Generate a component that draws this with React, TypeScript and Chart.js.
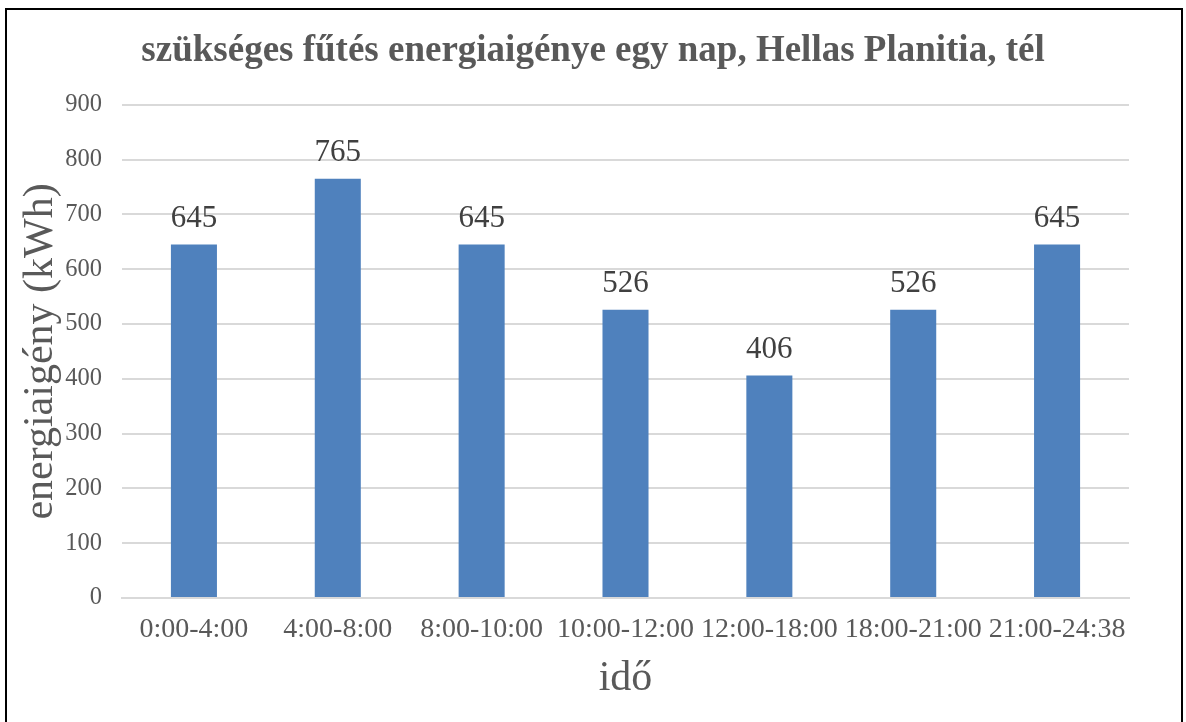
import React, { useEffect, useRef } from "react";
import { Chart, registerables } from "chart.js";

Chart.register(...registerables);

const categories = ["0:00-4:00", "4:00-8:00", "8:00-10:00", "10:00-12:00", "12:00-18:00", "18:00-21:00", "21:00-24:38"];
const values = [645, 765, 645, 526, 406, 526, 645];
const titleText = "szükséges fűtés energiaigénye egy nap, Hellas Planitia, tél";
const yTitle = "energiaigény (kWh)";
const xTitle = "idő";

const FONT = "'Liberation Serif', 'Times New Roman', serif";

const labelPlugin = {
  id: "barLabels",
  afterDatasetsDraw(chart: any) {
    const ctx = chart.ctx;
    const meta = chart.getDatasetMeta(0);
    ctx.save();
    ctx.font = `31px ${FONT}`;
    ctx.fillStyle = "#404040";
    ctx.textAlign = "center";
    ctx.textBaseline = "alphabetic";
    meta.data.forEach((bar: any, i: number) => {
      ctx.fillText(String(values[i]), bar.x, bar.y - 18);
    });
    ctx.restore();
  },
};

export default function App() {
  const ref = useRef<HTMLCanvasElement>(null);
  useEffect(() => {
    const chart = new Chart(ref.current!, {
      type: "bar",
      data: {
        labels: categories,
        datasets: [
          {
            data: values,
            backgroundColor: "#4F81BD",
            categoryPercentage: 1,
            barPercentage: 0.32,
          },
        ],
      },
      options: {
        animation: false,
        responsive: false,
        maintainAspectRatio: false,
        layout: { padding: 0 },
        plugins: {
          legend: { display: false },
          tooltip: { enabled: false },
          title: {
            display: true,
            text: titleText,
            color: "#595959",
            font: { family: FONT, size: 37, weight: "bold" },
            padding: { top: 29, bottom: 31.5 },
          },
        },
        scales: {
          y: {
            min: 0,
            max: 900,
            afterFit: (s: any) => { s.width = 122; },
            ticks: { stepSize: 100, color: "#595959", font: { family: FONT, size: 24.5 }, padding: 20 },
            grid: { color: "#d9d9d9", lineWidth: 2, drawTicks: false },
            border: { display: false },
            title: { display: true, text: yTitle, color: "#595959", font: { family: FONT, size: 42 }, padding: { top: 15.5, bottom: 0 } },
          },
          y2: {
            position: "right",
            afterFit: (s: any) => { s.width = 57; },
            ticks: { display: false },
            grid: { display: false, drawTicks: false },
            border: { display: false },
          },
          x: {
            afterFit: (s: any) => { s.height = 124; },
            ticks: { color: "#595959", font: { family: FONT, size: 28 }, padding: 15, maxRotation: 0, autoSkip: false },
            grid: { display: false, drawTicks: false },
            border: { color: "#d9d9d9", width: 2 },
            title: { display: true, text: xTitle, color: "#595959", font: { family: FONT, size: 42 }, padding: { top: 0, bottom: 18 } },
          },
        },
      },
      plugins: [labelPlugin],
    });
    return () => chart.destroy();
  }, []);
  return (
    <div style={{ position: "absolute", left: 0, top: 0, width: 1186, height: 722, background: "#fff", overflow: "hidden" }}>
      <canvas ref={ref} width={1186} height={722} style={{ position: "absolute", left: 0, top: 0 }} />
      <div style={{ position: "absolute", left: 5, top: 8, width: 1178, height: 730, border: "2px solid #000", boxSizing: "border-box" }} />
    </div>
  );
}
